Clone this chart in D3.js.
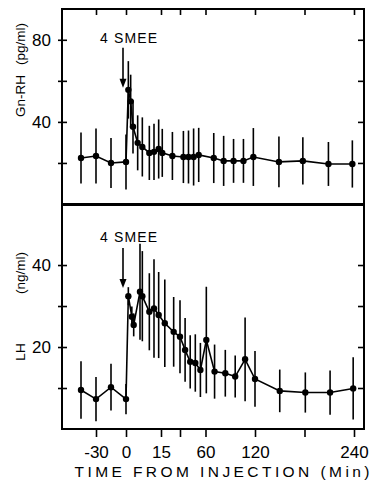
<!DOCTYPE html>
<html>
<head>
<meta charset="utf-8">
<script src="https://cdn.jsdelivr.net/npm/d3@7"></script>
<style>
  body { margin: 0; background: #fff; }
  svg { display: block; font-family: "Liberation Sans", Arial, sans-serif; }
  .tick line { stroke: #000; stroke-width: 1.6; }
  .tick text { fill: #000; font-size: 17px; }
  .domain { display: none; }
</style>
</head>
<body>
<div id="chart"></div>
<script>
// time axis (min) and its tick labels
const xTicks = [-30, 0, 15, 30, 60, 120, 180, 240];
const xTickLabels = ["-30", "0", "15", "", "60", "120", "", "240"];

// Gn-RH panel (pg/ml)
const gnrhTime = [-45, -30, -15, 0, 1, 2, 3, 5, 7, 10, 12, 14, 16, 24, 34, 40, 46, 52, 70, 82, 94, 106, 118, 149, 178, 209, 238];
const gnrhMean = [22.4, 23.4, 20, 20.5, 55.6, 50, 37.6, 29.8, 27.8, 24.9, 25.4, 26.8, 24.9, 23.4, 22.9, 22.9, 22.9, 23.9, 22.4, 21, 21, 21, 22.9, 20.5, 21, 19.5, 19.5];
const gnrhSem = [12.4, 13.4, 12.2, 13.4, 14, 13, 13, 13.4, 14.4, 13.2, 13.7, 14.4, 11.7, 11.7, 12.7, 12.9, 13.9, 13.2, 12.2, 12.2, 10.7, 10.7, 14.1, 12.4, 11.5, 10.7, 11.5];
const gnrhTicks = [20, 40, 60, 80];
const gnrhTickLabels = ["", "40", "", "80"];

// LH panel (ng/ml)
const lhTime = [-45, -30, -15, 0, 1, 2.5, 3.3, 6, 7, 10, 12, 14, 18, 25, 30, 36, 42, 48, 54, 61, 71, 84, 96, 108, 120, 150, 181, 211, 239];
const lhMean = [9.5, 7.3, 10.2, 7.3, 32.4, 27.4, 25.4, 33.5, 32.4, 28.6, 29.4, 27.8, 25.8, 23.7, 22.5, 19.3, 16.4, 16.1, 14.4, 21.7, 14, 13.6, 12.8, 17, 12.2, 9.3, 8.9, 8.9, 9.9];
const lhSem = [7, 5.4, 5.7, 3.7, 2.2, 2.5, 2.8, 11.7, 11, 9.4, 12, 10.5, 10.7, 8.5, 8.9, 7.8, 6.5, 7, 6.6, 13, 6.6, 5.7, 5.1, 10.2, 6.8, 5.2, 4.9, 5.4, 7.6];
const lhTicks = [10, 20, 30, 40];
const lhTickLabels = ["", "20", "", "40"];

const margin = { top: 9, right: 11, bottom: 52, left: 62 };
const width = 375 - margin.left - margin.right;
const height = 481 - margin.top - margin.bottom;
const topH = 195;   // Gn-RH panel height

const svg = d3.select("#chart").append("svg")
  .attr("width", 375)
  .attr("height", 481)
  .append("g")
  .attr("transform", `translate(${margin.left},${margin.top})`);

// broken time axis: each segment has its own spacing
const x = d3.scaleLinear()
  .domain([-30, 0, 15, 30, 60, 240])
  .range([34, 64, 99, 118, 143.5, 292]);

const yTop = d3.scaleLinear().domain([0, 95]).range([topH, 0]);
const yBot = d3.scaleLinear().domain([0, 54.4]).range([height, topH + 2]);

function drawPanel(times, means, sems, y, ticks, tickLabels) {
  const data = times.map((t, i) => ({ t: t, m: means[i], s: sems[i] }));

  // left ticks crossing the frame, with labels
  svg.append("g")
    .call(d3.axisLeft(y).tickValues(ticks).tickSize(4).tickPadding(7)
      .tickFormat((d, i) => tickLabels[i]));
  svg.append("g")
    .call(d3.axisRight(y).tickValues(ticks).tickSize(5).tickFormat(""));
  // right ticks pointing inward
  svg.append("g")
    .attr("transform", `translate(${width},0)`)
    .call(d3.axisLeft(y).tickValues(ticks).tickSize(6).tickFormat(""));

  // error bars
  svg.selectAll(null)
    .data(data)
    .enter().append("line")
    .attr("x1", d => x(d.t))
    .attr("x2", d => x(d.t))
    .attr("y1", d => y(d.m - d.s))
    .attr("y2", d => y(d.m + d.s))
    .attr("stroke", "#000")
    .attr("stroke-width", 1.6);

  const line = d3.line().x(d => x(d.t)).y(d => y(d.m));
  svg.append("path")
    .datum(data)
    .attr("d", line)
    .attr("fill", "none")
    .attr("stroke", "#000")
    .attr("stroke-width", 1.6);

  svg.selectAll(null)
    .data(data)
    .enter().append("circle")
    .attr("cx", d => x(d.t))
    .attr("cy", d => y(d.m))
    .attr("r", 3.2)
    .attr("fill", "#000");
}

drawPanel(gnrhTime, gnrhMean, gnrhSem, yTop, gnrhTicks, gnrhTickLabels);
drawPanel(lhTime, lhMean, lhSem, yBot, lhTicks, lhTickLabels);

// ticks on top of the upper panel, pointing down
svg.append("g")
  .call(d3.axisTop(x).tickValues(xTicks).tickSize(-6).tickFormat(""));

// bottom time axis
svg.append("g")
  .attr("transform", `translate(0,${height})`)
  .call(d3.axisBottom(x).tickValues(xTicks).tickSize(8).tickPadding(9)
    .tickFormat((d, i) => xTickLabels[i]));

// frame and the thick divider
svg.append("rect")
  .attr("x", 0).attr("y", 0)
  .attr("width", width).attr("height", height)
  .attr("fill", "none")
  .attr("stroke", "#000")
  .attr("stroke-width", 2);

svg.append("line")
  .attr("x1", 0).attr("x2", width)
  .attr("y1", topH + 0.5).attr("y2", topH + 0.5)
  .attr("stroke", "#000")
  .attr("stroke-width", 3.2);

// injection markers
function injection(y, tipValue, labelY) {
  const ax = x(0) - 3;
  const tip = y(tipValue);
  svg.append("line")
    .attr("x1", ax).attr("x2", ax)
    .attr("y1", tip - 40).attr("y2", tip - 6)
    .attr("stroke", "#000")
    .attr("stroke-width", 1.6);
  svg.append("path")
    .attr("d", `M${ax - 3.5},${tip - 9} L${ax + 3.5},${tip - 9} L${ax},${tip} Z`)
    .attr("fill", "#000");
  svg.append("text")
    .attr("x", 38)
    .attr("y", labelY)
    .attr("textLength", 57)
    .attr("lengthAdjust", "spacing")
    .attr("font-size", "14px")
    .text("4 SMEE");
}
injection(yTop, 56.6, 34);
injection(yBot, 34.4, 233);

// axis titles
svg.append("text")
  .attr("x", 160)
  .attr("y", height + 48)
  .attr("text-anchor", "middle")
  .attr("textLength", 295)
  .attr("lengthAdjust", "spacing")
  .attr("font-size", "15.5px")
  .text("TIME FROM INJECTION (Min)");

function yLabel(txt, cy) {
  svg.append("text")
    .attr("transform", `translate(${25 - margin.left},${cy - margin.top}) rotate(-90)`)
    .attr("text-anchor", "middle")
    .attr("font-size", "13.5px")
    .text(txt);
}
yLabel("(pg/ml)", 44);
yLabel("Gn-RH", 96);
yLabel("(ng/ml)", 273);
yLabel("LH", 352);
</script>
</body>
</html>
